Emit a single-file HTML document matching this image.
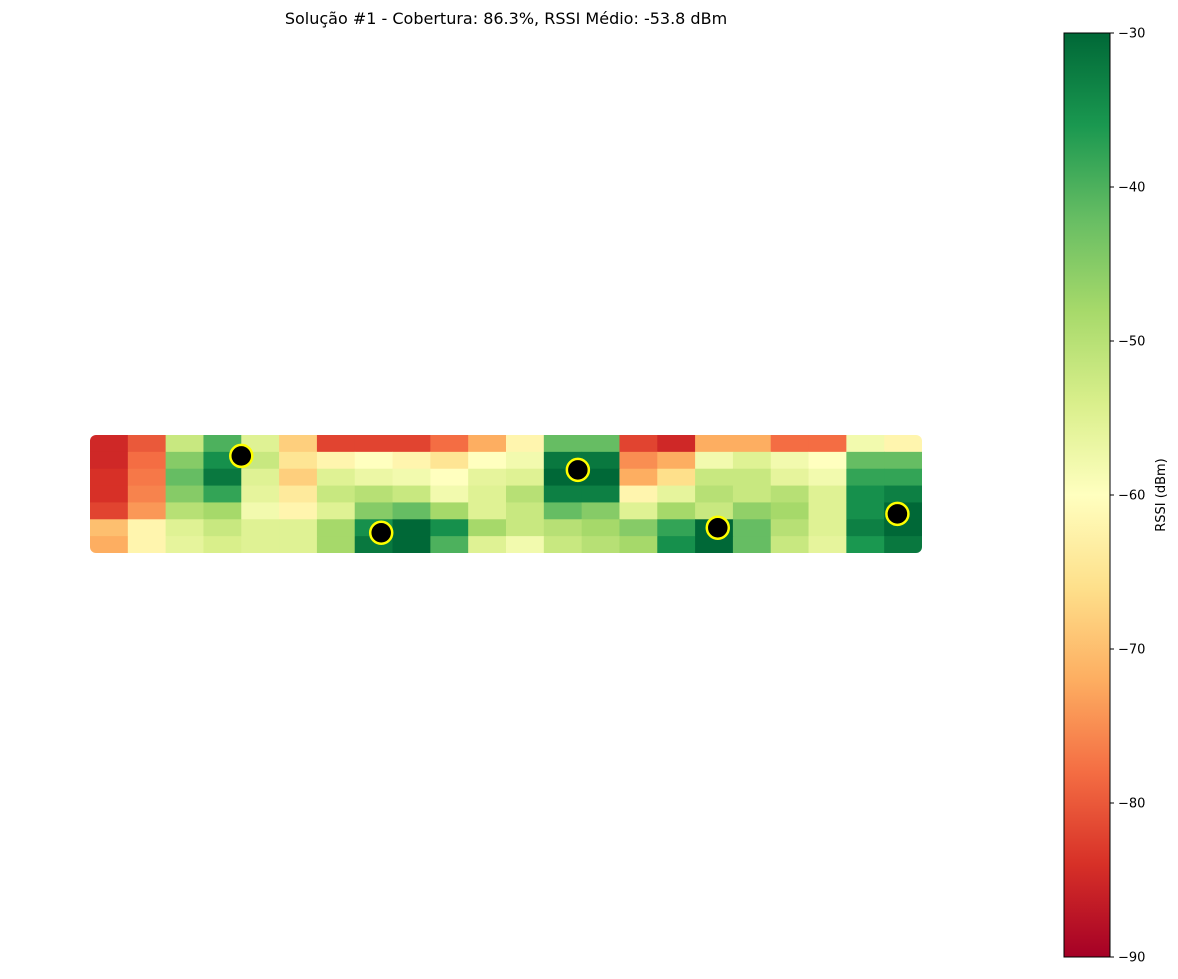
<!DOCTYPE html>
<html><head><meta charset="utf-8"><style>
body{margin:0;background:#fff;font-family:"DejaVu Sans","Liberation Sans",sans-serif}
svg text{font-family:"DejaVu Sans","Liberation Sans",sans-serif}
</style></head><body>
<svg id="c" width="1178" height="975" xmlns="http://www.w3.org/2000/svg">
<defs>
<linearGradient id="cb" x1="0" y1="1" x2="0" y2="0"></linearGradient>
<clipPath id="clipA"><rect x="90" y="435" width="832" height="118" rx="6"/></clipPath>
</defs>
<text x="506" y="24" font-size="16" text-anchor="middle">Solução #1 - Cobertura: 86.3%, RSSI Médio: -53.8 dBm</text>
<g id="heat" clip-path="url(#clipA)"></g>
<g id="aps"></g>
<g id="cbar"></g>
<text transform="translate(1165,495) rotate(-90)" font-size="13" text-anchor="middle">RSSI (dBm)</text>
</svg>
<script>
const rssiRow0=[-85,-80,-52,-40,-55,-68,-82,-82,-82,-78,-72,-62,-42,-42,-82,-85,-72,-72,-78,-78,-58,-62];
const rssiRow1=[-85,-78,-45,-35,-52,-65,-62,-60,-62,-65,-60,-58,-32,-32,-75,-72,-58,-55,-58,-60,-42,-42];
const rssiRow2=[-84,-77,-42,-32,-55,-68,-55,-57,-58,-60,-56,-55,-30,-30,-72,-66,-52,-52,-56,-58,-38,-38];
const rssiRow3=[-84,-76,-45,-38,-56,-64,-52,-50,-52,-58,-55,-50,-33,-33,-62,-56,-50,-52,-50,-55,-35,-33];
const rssiRow4=[-82,-74,-50,-48,-58,-62,-55,-45,-42,-48,-55,-52,-42,-45,-55,-48,-52,-46,-48,-55,-35,-30];
const rssiRow5=[-70,-62,-55,-52,-55,-55,-48,-35,-30,-35,-48,-52,-50,-48,-45,-38,-30,-42,-50,-55,-33,-30];
const rssiRow6=[-72,-62,-56,-54,-55,-55,-48,-32,-30,-40,-55,-58,-52,-50,-48,-35,-30,-42,-52,-56,-36,-32];
const apX=[4.0,7.7,12.9,16.6,21.35];
const apY=[1.24,5.8,2.07,5.5,4.68];
const cbTicks=[-30,-40,-50,-60,-70,-80,-90];

const rows=[rssiRow0,rssiRow1,rssiRow2,rssiRow3,rssiRow4,rssiRow5,rssiRow6];
const NS="http://www.w3.org/2000/svg";
const nCols=22,nRows=7;
const sx=v=>90+v*(832/nCols);
const sy=v=>435+v*(118/nRows);
const cy=v=>33+(-30-v)*(924/60);
const stops=[[165,0,38],[215,48,39],[244,109,67],[253,174,97],[254,224,139],[255,255,191],[217,239,139],[166,217,106],[102,189,99],[26,152,80],[0,104,55]];
function cmap(v){let t=(v+90)/60;t=Math.max(0,Math.min(1,t))*(stops.length-1);
 const i=Math.min(Math.floor(t),stops.length-2),f=t-i,a=stops[i],b=stops[i+1];
 return `rgb(${a.map((x,k)=>Math.round(x+(b[k]-x)*f)).join(',')})`;}
const heat=document.getElementById('heat');
rows.forEach((row,r)=>row.forEach((v,c)=>{
 const el=document.createElementNS(NS,'rect');
 el.setAttribute('x',sx(c));el.setAttribute('y',sy(r));
 el.setAttribute('width',sx(c+1)-sx(c)+0.5);el.setAttribute('height',sy(r+1)-sy(r)+0.5);
 el.setAttribute('fill',cmap(v));
 
 
 heat.appendChild(el);}));
const aps=document.getElementById('aps');
apX.forEach((x,i)=>{const el=document.createElementNS(NS,'circle');
 el.setAttribute('cx',sx(x));el.setAttribute('cy',sy(apY[i]));el.setAttribute('r',11);
 el.setAttribute('fill','#000');el.setAttribute('stroke','#ffff00');el.setAttribute('stroke-width',2.5);
 
 
 aps.appendChild(el);});
const g=document.getElementById('cb');
stops.forEach((s,i)=>{const st=document.createElementNS(NS,'stop');st.setAttribute('offset',i/(stops.length-1));st.setAttribute('stop-color',`rgb(${s.join(',')})`);g.appendChild(st);});
const cb=document.getElementById('cbar');
const bar=document.createElementNS(NS,'rect');
bar.setAttribute('x',1064);bar.setAttribute('y',33);bar.setAttribute('width',46);bar.setAttribute('height',924);
bar.setAttribute('fill','url(#cb)');bar.setAttribute('stroke','#000');bar.setAttribute('stroke-width',1);


cb.appendChild(bar);
cbTicks.forEach(t=>{const y=cy(t);
 const ln=document.createElementNS(NS,'line');
 ln.setAttribute('x1',1110);ln.setAttribute('x2',1114);ln.setAttribute('y1',y);ln.setAttribute('y2',y);ln.setAttribute('stroke','#000');
 
 
 cb.appendChild(ln);
 const tx=document.createElementNS(NS,'text');
 tx.setAttribute('x',1118);tx.setAttribute('y',y+4.5);tx.setAttribute('font-size','13');
 tx.textContent='\u2212'+Math.abs(t);
 
 
 cb.appendChild(tx);});
</script>
</body></html>
